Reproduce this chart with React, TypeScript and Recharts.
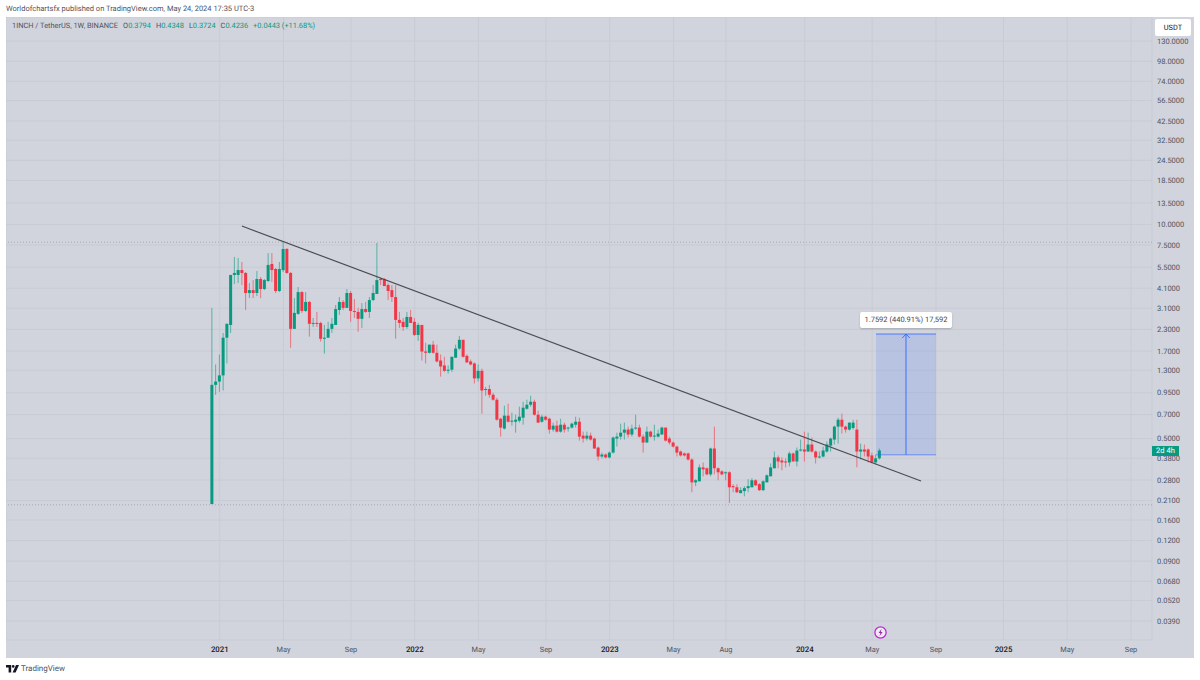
import { Bar, CartesianGrid, ComposedChart, ReferenceArea, ReferenceLine, XAxis, YAxis } from 'recharts';

// weekly candles, first one is the week of 2020-12-21
const opens = [
  0.2, 1.06, 1.11, 1.21, 2.05, 2.45, 4.93, 4.93, 5.28, 5.07,
  3.83, 3.99, 3.83, 4.66, 4.05, 4.53, 5.75, 5.36, 3.94, 5.28,
  7.09, 5.07, 2.32, 2.86, 3.88, 2.98, 3.38, 2.49, 2.52, 2.52,
  2.02, 2.05, 2.32, 2.45, 3.02, 3.38, 3.11, 3.83, 2.98, 2.94,
  2.67, 3.06, 2.94, 3.47, 3.78, 4.66, 4.66, 4.28, 3.99, 3.62,
  2.63, 2.56, 2.38, 2.74, 2.56, 2.13, 2.45, 1.69, 1.66, 1.86,
  1.66, 1.49, 1.39, 1.29, 1.31, 1.55, 1.76, 1.99, 1.59, 1.47,
  1.43, 1.16, 1.29, 0.99, 1.0, 0.923, 0.861, 0.66, 0.575, 0.689,
  0.633, 0.633, 0.642, 0.67, 0.759, 0.803, 0.837, 0.698, 0.633, 0.679,
  0.66, 0.567, 0.599, 0.551, 0.607, 0.575, 0.583, 0.607, 0.633, 0.521,
  0.5, 0.521, 0.5, 0.441, 0.389, 0.4, 0.384, 0.411, 0.5, 0.514,
  0.543, 0.567, 0.529, 0.575, 0.583, 0.514, 0.473, 0.551, 0.514, 0.514,
  0.529, 0.583, 0.5, 0.473, 0.447, 0.417, 0.406, 0.406, 0.373, 0.271,
  0.275, 0.334, 0.33, 0.303, 0.435, 0.33, 0.316, 0.308, 0.312, 0.257,
  0.253, 0.233, 0.24, 0.25, 0.253, 0.279, 0.264, 0.243, 0.271, 0.295,
  0.33, 0.384, 0.368, 0.363, 0.358, 0.406, 0.363, 0.423, 0.429, 0.417,
  0.46, 0.417, 0.384, 0.389, 0.417, 0.453, 0.493, 0.591, 0.651, 0.591,
  0.567, 0.58, 0.567, 0.417, 0.429, 0.429, 0.395, 0.358, 0.3794,
];
const highs = [
  3.11, 1.41, 1.62, 2.19, 2.49, 4.93, 6.34, 6.25, 5.91, 5.14,
  4.4, 4.59, 5.21, 4.79, 4.66, 6.7, 6.7, 5.43, 5.91, 7.93,
  7.19, 5.14, 3.57, 4.16, 3.94, 3.88, 3.42, 2.7, 2.94, 2.56,
  2.45, 2.56, 2.7, 3.24, 3.62, 3.47, 4.05, 3.94, 3.52, 3.11,
  3.33, 3.38, 3.62, 4.28, 7.71, 4.72, 4.72, 4.4, 4.28, 4.28,
  2.94, 2.7, 2.94, 3.02, 2.7, 2.52, 2.45, 1.91, 1.86, 1.96,
  1.86, 1.62, 1.57, 1.39, 1.57, 1.86, 2.1, 1.99, 1.62, 1.51,
  1.45, 1.41, 1.33, 1.03, 1.06, 0.949, 0.885, 0.67, 0.792, 0.814,
  0.718, 0.698, 0.781, 0.837, 0.861, 0.91, 0.861, 0.738, 0.698, 0.689,
  0.67, 0.625, 0.642, 0.66, 0.625, 0.591, 0.625, 0.679, 0.67, 0.551,
  0.551, 0.543, 0.507, 0.447, 0.411, 0.406, 0.417, 0.514, 0.543, 0.616,
  0.625, 0.591, 0.607, 0.698, 0.607, 0.529, 0.591, 0.559, 0.607, 0.567,
  0.591, 0.583, 0.514, 0.48, 0.453, 0.423, 0.411, 0.411, 0.379, 0.283,
  0.348, 0.358, 0.334, 0.441, 0.591, 0.334, 0.321, 0.316, 0.316, 0.264,
  0.264, 0.253, 0.257, 0.283, 0.287, 0.283, 0.268, 0.279, 0.303, 0.353,
  0.417, 0.395, 0.384, 0.379, 0.417, 0.411, 0.441, 0.493, 0.551, 0.543,
  0.507, 0.423, 0.417, 0.447, 0.48, 0.507, 0.599, 0.67, 0.708, 0.599,
  0.625, 0.65, 0.651, 0.466, 0.46, 0.435, 0.411, 0.4, 0.4348,
];
const lows = [
  0.2, 0.923, 0.962, 0.98, 1.43, 2.19, 4.34, 4.4, 4.28, 3.02,
  3.57, 3.57, 3.67, 3.57, 3.99, 4.47, 4.47, 3.83, 3.88, 5.14,
  5.0, 1.78, 2.32, 2.82, 2.9, 2.94, 2.08, 2.38, 2.38, 1.94,
  1.64, 2.05, 2.19, 2.45, 2.82, 3.02, 3.11, 2.56, 2.7, 2.23,
  2.35, 2.9, 2.7, 3.42, 3.78, 4.28, 4.22, 3.47, 3.38, 2.02,
  2.35, 2.26, 2.32, 2.52, 2.1, 1.96, 1.49, 1.43, 1.64, 1.64,
  1.45, 1.19, 1.27, 1.24, 1.27, 1.55, 1.73, 1.55, 1.45, 1.39,
  1.08, 1.11, 0.708, 0.91, 0.885, 0.849, 0.642, 0.514, 0.567, 0.625,
  0.599, 0.543, 0.625, 0.607, 0.749, 0.781, 0.689, 0.625, 0.625, 0.642,
  0.536, 0.551, 0.543, 0.543, 0.543, 0.551, 0.575, 0.583, 0.486, 0.473,
  0.486, 0.486, 0.435, 0.368, 0.379, 0.379, 0.379, 0.406, 0.447, 0.493,
  0.493, 0.507, 0.514, 0.567, 0.507, 0.411, 0.473, 0.507, 0.486, 0.507,
  0.529, 0.48, 0.46, 0.441, 0.389, 0.389, 0.389, 0.368, 0.236, 0.257,
  0.275, 0.295, 0.299, 0.295, 0.303, 0.279, 0.299, 0.279, 0.203, 0.236,
  0.233, 0.233, 0.223, 0.236, 0.253, 0.257, 0.24, 0.24, 0.271, 0.295,
  0.33, 0.33, 0.321, 0.334, 0.339, 0.363, 0.339, 0.417, 0.363, 0.417,
  0.411, 0.353, 0.379, 0.384, 0.411, 0.417, 0.46, 0.466, 0.536, 0.543,
  0.559, 0.567, 0.334, 0.373, 0.389, 0.358, 0.353, 0.348, 0.3724,
];
const closes = [
  1.06, 1.11, 1.21, 2.05, 2.49, 4.93, 5.07, 5.28, 5.07, 3.83,
  3.99, 3.83, 4.66, 4.05, 4.59, 5.67, 5.28, 3.94, 5.36, 7.09,
  5.07, 2.32, 2.9, 3.88, 2.98, 3.38, 2.49, 2.52, 2.49, 2.02,
  2.05, 2.32, 2.49, 3.06, 3.38, 3.11, 3.83, 2.98, 2.94, 2.67,
  3.06, 2.94, 3.47, 3.83, 4.59, 4.59, 4.22, 3.94, 3.62, 2.63,
  2.52, 2.38, 2.74, 2.52, 2.13, 2.45, 1.69, 1.66, 1.86, 1.66,
  1.47, 1.37, 1.29, 1.31, 1.57, 1.76, 1.99, 1.57, 1.45, 1.41,
  1.16, 1.29, 0.98, 1.0, 0.923, 0.861, 0.651, 0.583, 0.689, 0.633,
  0.642, 0.651, 0.679, 0.77, 0.803, 0.837, 0.698, 0.625, 0.679, 0.651,
  0.567, 0.599, 0.551, 0.607, 0.567, 0.583, 0.616, 0.633, 0.514, 0.5,
  0.521, 0.493, 0.435, 0.389, 0.4, 0.384, 0.411, 0.507, 0.514, 0.543,
  0.567, 0.529, 0.575, 0.583, 0.514, 0.473, 0.551, 0.514, 0.521, 0.536,
  0.583, 0.486, 0.473, 0.447, 0.411, 0.395, 0.395, 0.373, 0.271, 0.279,
  0.334, 0.325, 0.303, 0.435, 0.33, 0.312, 0.303, 0.312, 0.253, 0.253,
  0.236, 0.243, 0.25, 0.257, 0.279, 0.26, 0.243, 0.275, 0.299, 0.334,
  0.384, 0.363, 0.358, 0.358, 0.406, 0.363, 0.423, 0.429, 0.417, 0.46,
  0.417, 0.384, 0.389, 0.423, 0.46, 0.5, 0.591, 0.651, 0.591, 0.567,
  0.625, 0.625, 0.417, 0.429, 0.417, 0.389, 0.358, 0.379, 0.4236,
];

const priceTicks = [
  130, 98, 74, 56.5, 42.5, 32.5, 24.5, 18.5, 13.5, 10, 7.5, 5.5, 4.1, 3.1, 2.3,
  1.7, 1.3, 0.95, 0.7, 0.5, 0.38, 0.28, 0.21, 0.16, 0.12, 0.09, 0.068, 0.052, 0.039,
];
const timeTicks = [2, 19, 37, 54, 71, 89, 106, 123, 137, 158, 176, 193, 211, 228, 245];
const timeLabels = ['2021', 'May', 'Sep', '2022', 'May', 'Sep', '2023', 'May', 'Aug', '2024', 'May', 'Sep', '2025', 'May', 'Sep'];

const ohlcLabels = ['O', 'H', 'L', 'C'];
const ohlcValues = ['0.3794', '0.4348', '0.3724', '0.4236'];

const allTimeHigh = 7.8;
const allTimeLow = 0.198;
const trendStart = { x: 7.9, y: 9.78 };
const trendEnd = { x: 189, y: 0.276 };
const longEntry = 0.399;
const longTarget = 2.158;
const longFrom = 177;
const longTo = 193;
const longMid = 185;
const arrowBack = 2.04;

const UP = '#089981';
const DOWN = '#f23645';
const FONT = 'Roboto, sans-serif';

const rows = opens.map((open, i) => ({
  i,
  open,
  close: closes[i],
  high: highs[i],
  low: lows[i],
  range: [lows[i], highs[i]],
}));

const Candle = (props: any) => {
  const { x, y, width, height, payload } = props;
  const { open, close, high, low } = payload;
  const color = close >= open ? UP : DOWN;
  const cx = x + width / 2;
  // the bar spans low..high on the log axis, place open and close inside it
  const at = (v: number) => y + (height * Math.log(high / v)) / Math.log(high / low);
  const top = at(Math.max(open, close));
  const bottom = at(Math.min(open, close));
  return (
    <g>
      <line x1={cx} x2={cx} y1={y} y2={y + height} stroke={color} strokeOpacity={0.6} />
      <rect x={x} y={top} width={width} height={Math.max(bottom - top, 1)} fill={color} />
    </g>
  );
};

const TimeTick = (props: any) => {
  const { x, y, payload } = props;
  const label = timeLabels[timeTicks.indexOf(payload.value)];
  const isYear = /^\d+$/.test(label);
  return (
    <text x={x} y={y + 4} textAnchor="middle" fontFamily={FONT} fontSize={isYear ? 7.8 : 7.4} fontWeight={isYear ? 500 : 400} fill={isYear ? '#131722' : '#50535e'}>
      {label}
    </text>
  );
};

const abs = (left: number, top: number, extra: any = {}) => ({
  position: 'absolute' as const,
  left,
  top,
  fontFamily: FONT,
  whiteSpace: 'nowrap' as const,
  ...extra,
});

export default function App() {
  return (
    <div style={{ position: 'absolute', left: 0, top: 0, width: 1200, height: 680, background: '#fff', overflow: 'hidden', textRendering: 'geometricPrecision' }}>
      <div style={abs(6, 4, { fontSize: 7.5, lineHeight: '10px', color: '#50535e' })}>
        Worldofchartsfx published on TradingView.com, May 24, 2024 17:35 UTC-3
      </div>

      <div style={{ position: 'absolute', left: 6, top: 17, width: 1188, height: 641, background: '#d1d4dc' }}>
        <ComposedChart width={1188} height={641} data={rows} margin={{ top: 0, right: 0, bottom: 0, left: 0 }}>
          <CartesianGrid stroke="#c8cbd4" />
          <XAxis
            dataKey="i"
            type="number"
            domain={[-55, 250.6]}
            allowDataOverflow
            ticks={timeTicks}
            interval={0}
            height={18}
            axisLine={false}
            tickLine={false}
            tick={<TimeTick />}
          />
          <YAxis
            orientation="right"
            scale="log"
            domain={[0.02988, 181.9]}
            allowDataOverflow
            ticks={priceTicks}
            interval={0}
            width={42}
            axisLine={false}
            tickLine={false}
            tickSize={5}
            tickMargin={0}
            tickFormatter={(v: number) => v.toFixed(4)}
            tick={{ fontFamily: FONT, fontSize: 7.5, fill: '#50535e' }}
          />
          <ReferenceLine y={allTimeHigh} stroke="#a9acb5" strokeDasharray="1 2" />
          <ReferenceLine y={allTimeLow} stroke="#a9acb5" strokeDasharray="1 2" />
          <ReferenceArea x1={longFrom} x2={longTo} y1={longEntry} y2={longTarget} fill="#2962ff" fillOpacity={0.15} stroke="none" />
          <Bar dataKey="range" barSize={3} shape={<Candle />} isAnimationActive={false} />
          <ReferenceLine segment={[trendStart, trendEnd]} stroke="#4c4c55" strokeWidth={1.2} />
          <ReferenceLine segment={[{ x: longFrom, y: longTarget }, { x: longTo, y: longTarget }]} stroke="#2962ff" strokeOpacity={0.75} />
          <ReferenceLine segment={[{ x: longFrom, y: longEntry }, { x: longTo, y: longEntry }]} stroke="#2962ff" strokeOpacity={0.4} strokeWidth={1.6} />
          <ReferenceLine segment={[{ x: longMid, y: longEntry }, { x: longMid, y: longTarget }]} stroke="#2962ff" strokeOpacity={0.85} />
          <ReferenceLine segment={[{ x: longMid, y: longTarget }, { x: longMid - 1, y: arrowBack }]} stroke="#2962ff" strokeOpacity={0.85} />
          <ReferenceLine segment={[{ x: longMid, y: longTarget }, { x: longMid + 1, y: arrowBack }]} stroke="#2962ff" strokeOpacity={0.85} />
        </ComposedChart>
      </div>

      {/* legend */}
      <div style={abs(12, 21, { fontSize: 7.4, lineHeight: '10px', color: '#50535e' })}>
        <span style={{ marginRight: 5 }}>1INCH / TetherUS, 1W, BINANCE</span>
        {ohlcLabels.map((l, i) => (
          <span key={l} style={{ marginRight: 5 }}>
            {l}
            <span style={{ color: UP }}>{ohlcValues[i]}</span>
          </span>
        ))}
        <span style={{ color: UP }}>+0.0443 (+11.68%)</span>
      </div>

      <div style={abs(1155, 19, { width: 36, height: 17, lineHeight: '17px', background: '#fff', borderRadius: 2, fontSize: 7.4, color: '#131722', textAlign: 'center' })}>USDT</div>
      <div style={abs(1152, 446, { width: 27, height: 10, lineHeight: '10px', background: UP, fontSize: 7.6, color: '#fff', textAlign: 'center' })}>2d 4h</div>
      <div style={abs(860, 312, { width: 92, height: 16, lineHeight: '16px', background: '#fff', borderRadius: 2, boxShadow: '0 1px 2px rgba(0,0,0,0.2)', fontSize: 7.5, color: '#434651', textAlign: 'center' })}>
        1.7592 (440.91%) 17,592
      </div>

      {/* lightning badge */}
      <svg style={{ position: 'absolute', left: 873, top: 625 }} width={15} height={15} viewBox="0 0 15 15">
        <circle cx={7.5} cy={7.5} r={5.6} fill="#f3e8f6" stroke="#b42fc9" strokeWidth={1.3} />
        <path d="M8.6 3.8 5.6 8h1.8l-1 3.2L9.6 7H7.8z" fill="#9c27b0" />
      </svg>

      {/* TradingView mark */}
      <svg style={{ position: 'absolute', left: 6, top: 665 }} width={13} height={8} viewBox="0 0 13 8">
        <path d="M0 0h5.2v7.6H2.6V2.6H0z M10 0h3L9.6 7.6H6.6z" fill="#131722" />
        <circle cx={7.2} cy={1.4} r={1.3} fill="#131722" />
      </svg>
      <div style={abs(21, 664, { fontSize: 8, lineHeight: '10px', color: '#50535e' })}>TradingView</div>
    </div>
  );
}
